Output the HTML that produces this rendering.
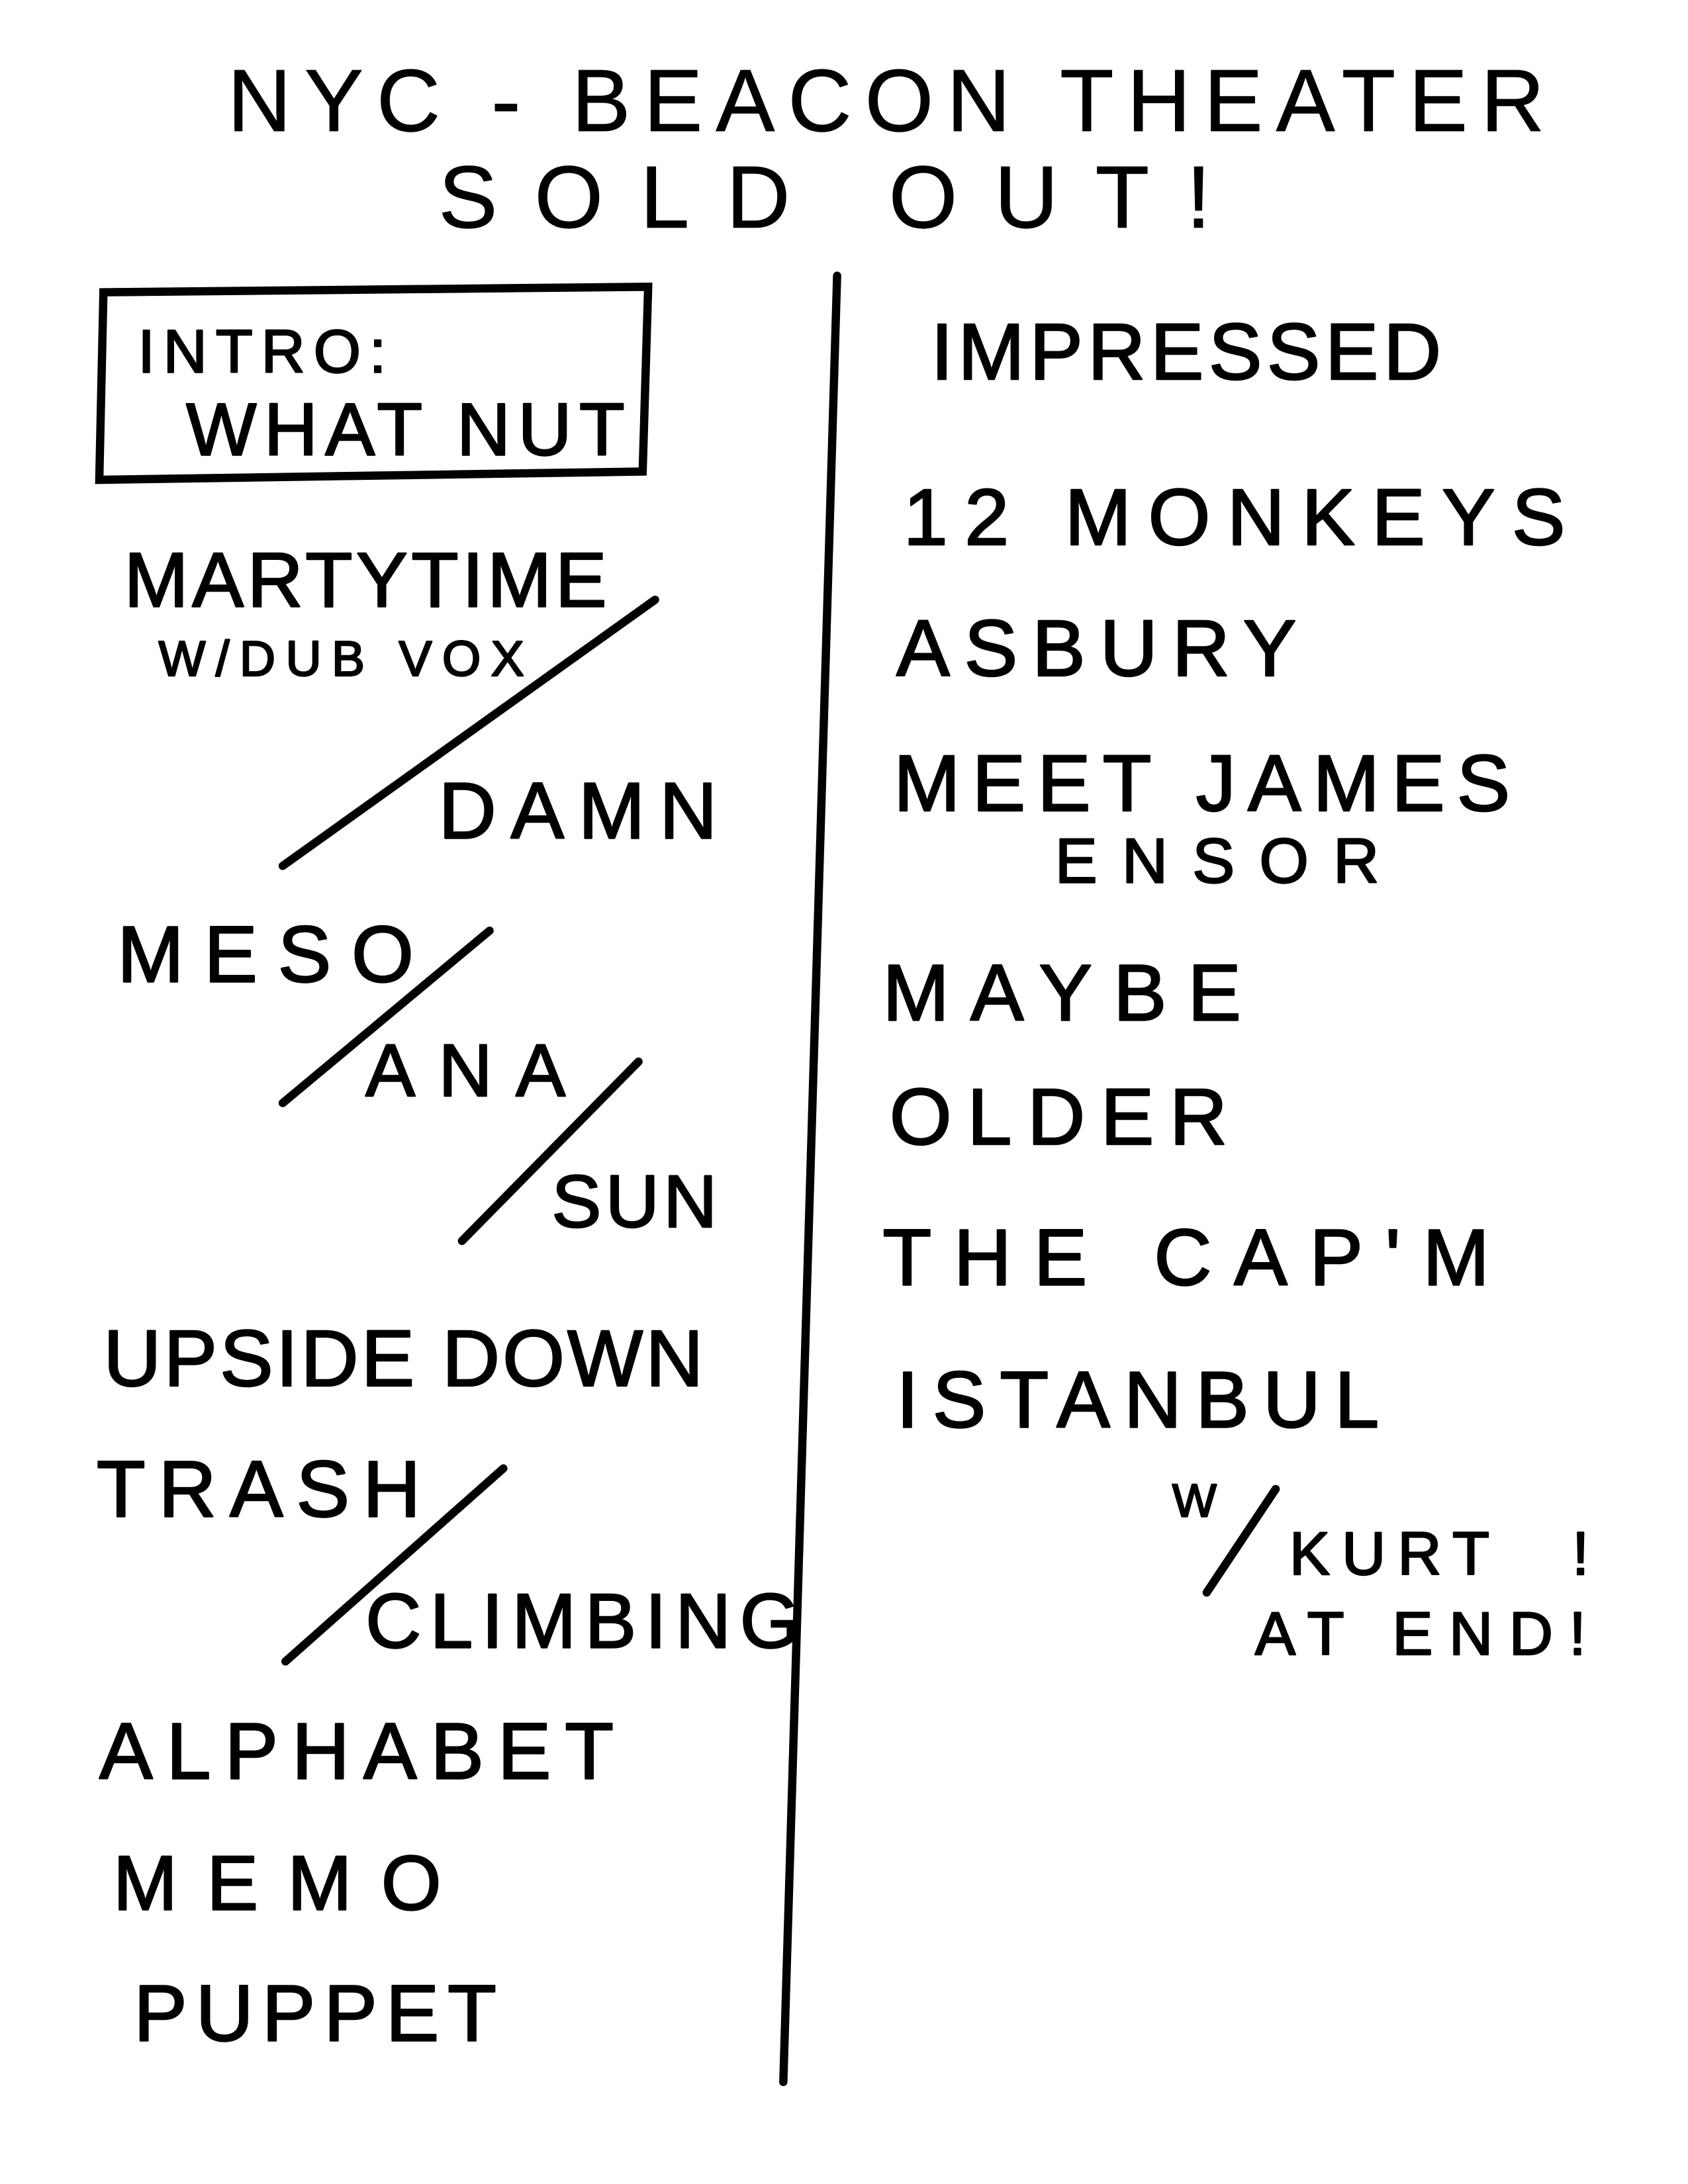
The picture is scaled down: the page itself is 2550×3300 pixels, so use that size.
<!DOCTYPE html>
<html><head><meta charset="utf-8"><style>
html,body{margin:0;padding:0;background:#fff;}
svg{display:block;}
text{font-family:"Liberation Sans",sans-serif;fill:#000;stroke:#000;stroke-width:1.2;stroke-linejoin:round;}
.t{stroke-width:0.5;}
.l{stroke:#000;stroke-width:6;fill:none;stroke-linecap:round;}
</style></head><body>
<svg width="2550" height="3300" viewBox="0 0 1224 1584" xmlns="http://www.w3.org/2000/svg">
<rect width="1224" height="1584" fill="#fff"/>
<text class="t" x="165" y="95" font-size="64" textLength="955" lengthAdjust="spacing">NYC - BEACON THEATER</text>
<text class="t" x="318" y="165" font-size="64" textLength="560" lengthAdjust="spacing">SOLD  OUT!</text>
<path class="l" d="M75 212 L470 208 L466 342 L72 348 Z"/>
<text x="100" y="270" font-size="44" textLength="180" lengthAdjust="spacing">INTRO:</text>
<text x="135" y="330" font-size="54" textLength="318" lengthAdjust="spacing">WHAT NUT</text>
<path class="l" d="M607 200 Q590 850 568 1510"/>
<text x="90" y="440" font-size="56" textLength="350" lengthAdjust="spacing">MARTYTIME</text>
<text x="115" y="490" font-size="36" textLength="265" lengthAdjust="spacing">W/DUB VOX</text>
<path class="l" d="M205 628 L475 435"/>
<text x="318" y="608" font-size="58" textLength="202" lengthAdjust="spacing">DAMN</text>
<text x="85" y="712" font-size="58" textLength="215" lengthAdjust="spacing">MESO</text>
<path class="l" d="M205 800 L355 675"/>
<text x="265" y="795" font-size="54" textLength="145" lengthAdjust="spacing">ANA</text>
<path class="l" d="M335 900 L463 770"/>
<text x="400" y="890" font-size="54" textLength="120" lengthAdjust="spacing">SUN</text>
<text x="75" y="1005" font-size="58" textLength="435" lengthAdjust="spacing">UPSIDE DOWN</text>
<text x="70" y="1100" font-size="58" textLength="235" lengthAdjust="spacing">TRASH</text>
<path class="l" d="M207 1205 L365 1065"/>
<text x="265" y="1195" font-size="56" textLength="315" lengthAdjust="spacing">CLIMBING</text>
<text x="72" y="1290" font-size="58" textLength="373" lengthAdjust="spacing">ALPHABET</text>
<text x="82" y="1385" font-size="56" textLength="238" lengthAdjust="spacing">MEMO</text>
<text x="97" y="1480" font-size="58" textLength="263" lengthAdjust="spacing">PUPPET</text>
<text x="675" y="275" font-size="58" textLength="370" lengthAdjust="spacing">IMPRESSED</text>
<text x="655" y="395" font-size="58" textLength="480" lengthAdjust="spacing">12  MONKEYS</text>
<text x="650" y="490" font-size="58" textLength="290" lengthAdjust="spacing">ASBURY</text>
<text x="648" y="588" font-size="58" textLength="447" lengthAdjust="spacing">MEET JAMES</text>
<text x="765" y="640" font-size="46" textLength="235" lengthAdjust="spacing">ENSOR</text>
<text x="640" y="740" font-size="58" textLength="260" lengthAdjust="spacing">MAYBE</text>
<text x="645" y="830" font-size="58" textLength="245" lengthAdjust="spacing">OLDER</text>
<text x="640" y="932" font-size="58" textLength="440" lengthAdjust="spacing">THE  CAP'M</text>
<text x="650" y="1035" font-size="58" textLength="350" lengthAdjust="spacing">ISTANBUL</text>
<text x="850" y="1100" font-size="34">W</text>
<path class="l" d="M875 1155 L925 1080"/>
<text x="935" y="1142" font-size="44" textLength="145" lengthAdjust="spacing">KURT</text>
<text x="1140" y="1142" font-size="44">!</text>
<text x="910" y="1200" font-size="44" textLength="240" lengthAdjust="spacing">AT END!</text>
</svg>
</body></html>
